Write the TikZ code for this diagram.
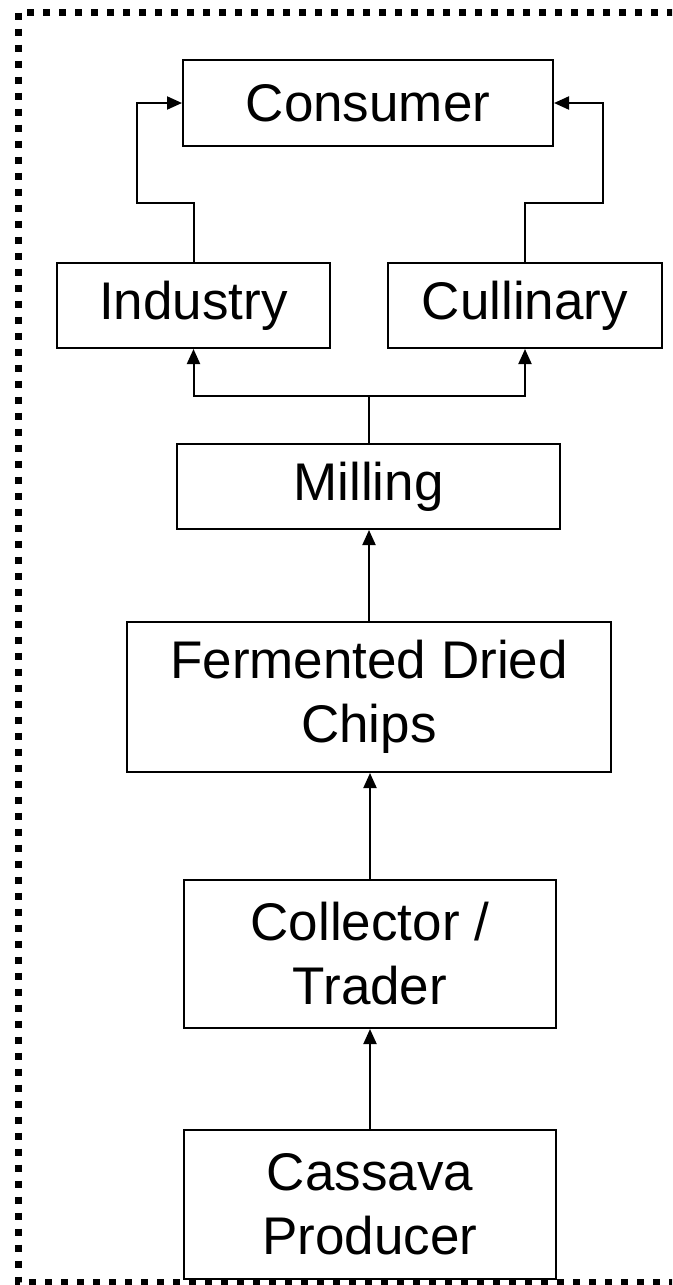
\documentclass[tikz,border=0pt]{standalone}
\usepackage{fontspec}
\setmainfont{Liberation Sans}
\usetikzlibrary{arrows.meta}

\tikzset{
  stage/.style={draw, line width=2pt, align=center, inner sep=0pt,
    font=\fontsize{53}{64}\selectfont},
  flow/.style={line width=2pt, -{Triangle[length=15pt,width=13pt]}}
}

\begin{document}
\begin{tikzpicture}[x=1pt,y=-1pt]
            \useasboundingbox (0,0) rectangle (672,1285);
            % outer dotted frame, right side runs off the page
            \begin{scope}
              \clip (0,0) rectangle (672,1285);
              \draw[line width=7pt, dash pattern=on 7pt off 9pt] (690,12)--(18.5,12)--(18.5,1282)--(690,1282);
            \end{scope}
            \node[stage, minimum width=370pt, minimum height=86pt] (consumer) at (368,103) {Consumer};
            \node[stage, minimum width=273pt, minimum height=85pt] (industry) at (193.5,305.5) {Industry};
            \node[stage, minimum width=274pt, minimum height=85pt] (cullinary) at (525,305.5) {Cullinary};
            \node[stage, minimum width=383pt, minimum height=85pt] (milling) at (368.5,486.5) {Milling};
            \node[stage, minimum width=484pt, minimum height=150pt] (chips) at (369,697) {Fermented Dried\\Chips};
            \node[stage, minimum width=372pt, minimum height=148pt] (trader) at (370,954) {Collector /\\Trader};
            \node[stage, minimum width=372pt, minimum height=149pt] (producer) at (370,1204.5) {Cassava\\Producer};
            % upward flow
            \draw[flow] (producer.north) -- (producer.north |- trader.south);
            \draw[flow] (trader.north) -- (trader.north |- chips.south);
            \draw[flow] (chips.north) -- (chips.north |- milling.south);
            \draw[line width=2pt] (milling.north) -- ++(0,-47) coordinate (split);
            \draw[flow] (split) -| (industry.south);
            \draw[flow] (split) -| (cullinary.south);
            \draw[flow] (industry.north) -- ++(0,-59) -| ++(-57,0) |- (consumer.west);
            \draw[flow] (cullinary.north) -- ++(0,-59) -| ++(78,0) |- (consumer.east);
        \end{tikzpicture}
\end{document}
